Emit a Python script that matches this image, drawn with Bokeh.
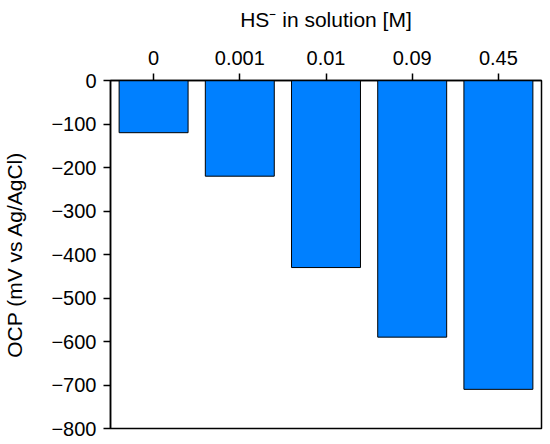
from bokeh.plotting import figure
from bokeh.models import Range1d, FactorRange, FixedTicker
from bokeh.embed import file_html
from bokeh.resources import INLINE

categories = ["0", "0.001", "0.01", "0.09", "0.45"]
ocp_values = [-120, -220, -430, -590, -710]
y_ticks = [0, -100, -200, -300, -400, -500, -600, -700, -800]

FONT = "Liberation Sans"

p = figure(
    width=550, height=444,
    x_range=FactorRange(*categories, range_padding=0),
    y_range=Range1d(-800, 0),
    x_axis_location="above",
    output_backend="svg", toolbar_location=None,
    min_border_left=109, min_border_top=80, min_border_right=9, min_border_bottom=16,
)

p.vbar(x=categories, top=ocp_values, bottom=0, width=0.8,
       fill_color="#0080FF", line_color="black", line_width=1)

p.xgrid.visible = False
p.ygrid.visible = False
p.outline_line_color = "black"
p.outline_line_width = 1.5
p.outline_line_alpha = 1

xa = p.xaxis[0]
xa.axis_label = "HS\u207B in solution [M]"
xa.axis_label_text_font = FONT
xa.axis_label_text_font_size = "21px"
xa.axis_label_text_font_style = "normal"
xa.axis_label_text_color = "black"
xa.axis_label_standoff = 17
xa.major_label_text_font = FONT
xa.major_label_text_font_size = "20px"
xa.major_label_text_color = "black"
xa.major_label_standoff = 9
xa.major_tick_out = 7
xa.major_tick_in = 0
xa.minor_tick_out = 0
xa.axis_line_width = 1.5
xa.axis_line_color = "black"
xa.major_tick_line_color = "black"
xa.major_tick_line_width = 1.5

ya = p.yaxis[0]
ya.ticker = FixedTicker(ticks=y_ticks)
ya.major_label_overrides = {t: ("0" if t == 0 else "\u2212" + str(abs(t))) for t in y_ticks}
ya.axis_label = "OCP (mV vs Ag/AgCl)"
ya.axis_label_text_font = FONT
ya.axis_label_text_font_size = "21px"
ya.axis_label_text_font_style = "normal"
ya.axis_label_text_color = "black"
ya.axis_label_standoff = 22
ya.major_label_text_font = FONT
ya.major_label_text_font_size = "20px"
ya.major_label_text_color = "black"
ya.major_label_standoff = 7
ya.major_tick_out = 7
ya.major_tick_in = 0
ya.minor_tick_out = 0
ya.minor_tick_in = 0
ya.axis_line_width = 1.5
ya.axis_line_color = "black"
ya.major_tick_line_color = "black"
ya.major_tick_line_width = 1.5

open("out.html", "w").write(file_html(p, INLINE))
